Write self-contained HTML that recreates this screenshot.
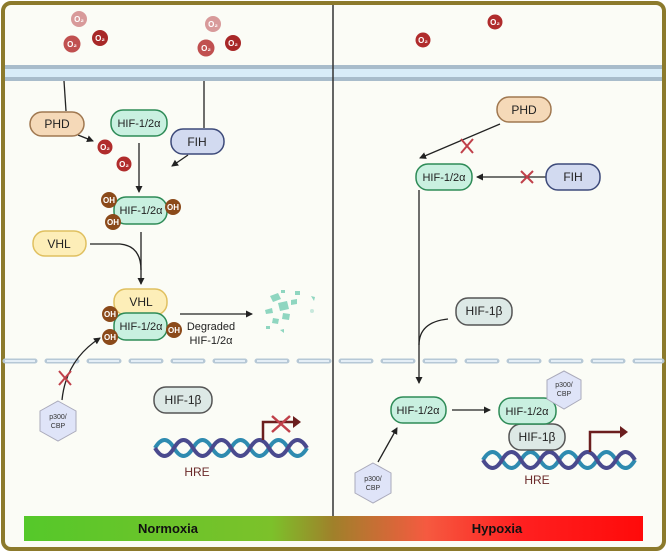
<!DOCTYPE html>
<html><head><meta charset="utf-8"><style>
body{margin:0;width:667px;height:552px;overflow:hidden;background:#fff}
text{font-family:"Liberation Sans",sans-serif}
</style></head><body>
<svg width="667" height="552" viewBox="0 0 667 552" xmlns="http://www.w3.org/2000/svg">
<defs>
<marker id="a" markerWidth="8" markerHeight="8" refX="6" refY="4" orient="auto" markerUnits="userSpaceOnUse"><path d="M0,0.5 L7,4 L0,7.5z" fill="#222"/></marker>
<linearGradient id="g" x1="0" x2="1"><stop offset="0" stop-color="#55c82a"/><stop offset="0.4" stop-color="#7cc12a"/><stop offset="0.5" stop-color="#a0802a"/><stop offset="0.65" stop-color="#f55a40"/><stop offset="0.8" stop-color="#ff2020"/><stop offset="1" stop-color="#ff0a0a"/></linearGradient>
</defs>
<rect x="3" y="3" width="661" height="546" rx="8" fill="#fbfcf6" stroke="#8c7a2c" stroke-width="4"/>
<rect x="5" y="65" width="657" height="16" fill="#d8ecf8"/>
<rect x="5" y="65" width="657" height="4" fill="#a8bccb"/>
<rect x="5" y="77" width="657" height="4" fill="#a8bccb"/>
<line x1="333" y1="5" x2="333" y2="520" stroke="#333" stroke-width="1.5"/>
<line x1="5" y1="361" x2="662" y2="361" stroke="#b6c8d6" stroke-width="5" stroke-dasharray="30,12" stroke-linecap="round"/>
<line x1="5" y1="361" x2="662" y2="361" stroke="#e4eef6" stroke-width="2" stroke-dasharray="30,12"/>
<g font-size="8" fill="#fff" text-anchor="middle" font-weight="bold">
<circle cx="79" cy="19" r="8" fill="#d89a9a"/><text x="79" y="22">O₂</text>
<circle cx="72" cy="44" r="8.5" fill="#c05050"/><text x="72" y="47">O₂</text>
<circle cx="100" cy="38" r="8" fill="#a82828"/><text x="100" y="41">O₂</text>
<circle cx="213" cy="24" r="8" fill="#d89a9a"/><text x="213" y="27">O₂</text>
<circle cx="206" cy="48" r="8.5" fill="#c05050"/><text x="206" y="51">O₂</text>
<circle cx="233" cy="43" r="8" fill="#a82828"/><text x="233" y="46">O₂</text>
<circle cx="105" cy="147" r="7.5" fill="#b02c2c"/><text x="105" y="150">O₂</text>
<circle cx="124" cy="164" r="7.5" fill="#b02c2c"/><text x="124" y="167">O₂</text>
<circle cx="495" cy="22" r="7.5" fill="#b02c2c"/><text x="495" y="25">O₂</text>
<circle cx="423" cy="40" r="7.5" fill="#b02c2c"/><text x="423" y="43">O₂</text>
</g>
<g fill="none" stroke="#222" stroke-width="1.3">
<path d="M64,81 L66,111"/>
<path d="M204,81 L204,128"/>
<path d="M78,135 L93,141" marker-end="url(#a)"/>
<path d="M188,155 L172,166" marker-end="url(#a)"/>
<path d="M139,143 L139,192" marker-end="url(#a)"/>
<path d="M141,232 L141,284" marker-end="url(#a)"/>
<path d="M90,244 L120,244 Q141,246 141,270"/>
<path d="M180,314 L252,314" marker-end="url(#a)"/>
<path d="M62,400 Q66,360 100,338" marker-end="url(#a)"/>
<path d="M500,124 L420,158" marker-end="url(#a)"/>
<path d="M546,177 L477,177" marker-end="url(#a)"/>
<path d="M419,190 L419,383" marker-end="url(#a)"/>
<path d="M448,319 Q419,322 419,345"/>
<path d="M452,410 L490,410" marker-end="url(#a)"/>
<path d="M378,462 L397,428" marker-end="url(#a)"/>
</g>
<g stroke="#c0404a" stroke-width="2">
<path d="M59,371 L71,385 M71,371 L59,385"/>
<path d="M461,139 L473,153 M473,139 L461,153"/>
<path d="M521,171 L533,183 M533,171 L521,183"/>
</g>
<!-- DNA -->
<g fill="none" stroke-width="4">
<path d="M155,448 q9.5,-16 19,0 t19,0 t19,0 t19,0 t19,0 t19,0 t19,0 t19,0" stroke="#2e8bb0"/>
<path d="M155,448 q9.5,16 19,0 t19,0 t19,0 t19,0 t19,0 t19,0 t19,0 t19,0" stroke="#4a4a8e"/>
<path d="M483,460 q9.5,-16 19,0 t19,0 t19,0 t19,0 t19,0 t19,0 t19,0 t19,0" stroke="#2e8bb0"/>
<path d="M483,460 q9.5,16 19,0 t19,0 t19,0 t19,0 t19,0 t19,0 t19,0 t19,0" stroke="#4a4a8e"/>
</g>
<g font-size="12" text-anchor="middle" fill="#222" stroke-width="1.5">
<rect x="30" y="112" width="54" height="24" rx="12" fill="#f5d9b8" stroke="#a07850"/><text x="57" y="128" stroke="none">PHD</text>
<rect x="111" y="110" width="56" height="26" rx="12" fill="#c9f0e0" stroke="#2e8b57"/><text x="139" y="127" stroke="none" font-size="11">HIF-1/2α</text>
<rect x="171" y="129" width="53" height="25" rx="12" fill="#d2daf0" stroke="#3d4a7a"/><text x="197" y="146" stroke="none">FIH</text>
<rect x="114" y="197" width="53" height="27" rx="12" fill="#c9f0e0" stroke="#2e8b57"/><text x="141" y="214" stroke="none" font-size="11">HIF-1/2α</text>
<rect x="33" y="231" width="53" height="25" rx="12" fill="#fdeeb8" stroke="#e0c060"/><text x="59" y="248" stroke="none">VHL</text>
<rect x="114" y="289" width="53" height="26" rx="12" fill="#fdeeb8" stroke="#e0c060"/><text x="141" y="306" stroke="none">VHL</text>
<rect x="114" y="313" width="53" height="27" rx="12" fill="#c9f0e0" stroke="#2e8b57"/><text x="141" y="330" stroke="none" font-size="11">HIF-1/2α</text>
<rect x="154" y="387" width="58" height="26" rx="12" fill="#dde9e6" stroke="#555"/><text x="183" y="404" stroke="none">HIF-1β</text>
<rect x="497" y="97" width="54" height="25" rx="12" fill="#f5d9b8" stroke="#a07850"/><text x="524" y="114" stroke="none">PHD</text>
<rect x="416" y="164" width="56" height="26" rx="12" fill="#c9f0e0" stroke="#2e8b57"/><text x="444" y="181" stroke="none" font-size="11">HIF-1/2α</text>
<rect x="546" y="164" width="54" height="26" rx="12" fill="#d2daf0" stroke="#3d4a7a"/><text x="573" y="181" stroke="none">FIH</text>
<rect x="456" y="298" width="56" height="27" rx="12" fill="#dde9e6" stroke="#555"/><text x="484" y="315" stroke="none">HIF-1β</text>
<rect x="391" y="397" width="55" height="26" rx="12" fill="#c9f0e0" stroke="#2e8b57"/><text x="418" y="414" stroke="none" font-size="11">HIF-1/2α</text>
<rect x="509" y="424" width="56" height="26" rx="12" fill="#dde9e6" stroke="#555"/><text x="537" y="441" stroke="none">HIF-1β</text>
<rect x="499" y="398" width="57" height="26" rx="12" fill="#c9f0e0" stroke="#2e8b57"/><text x="527" y="415" stroke="none" font-size="11">HIF-1/2α</text>
</g>
<g font-size="8" font-weight="bold" fill="#fff" text-anchor="middle">
<circle cx="109" cy="200" r="8" fill="#8b4a1a"/><text x="109" y="203">OH</text>
<circle cx="113" cy="222" r="8" fill="#8b4a1a"/><text x="113" y="225">OH</text>
<circle cx="173" cy="207" r="8" fill="#8b4a1a"/><text x="173" y="210">OH</text>
<circle cx="110" cy="314" r="8" fill="#8b4a1a"/><text x="110" y="317">OH</text>
<circle cx="110" cy="337" r="8" fill="#8b4a1a"/><text x="110" y="340">OH</text>
<circle cx="174" cy="330" r="8" fill="#8b4a1a"/><text x="174" y="333">OH</text>
</g>
<text x="211" y="330" font-size="11" text-anchor="middle" fill="#222">Degraded</text>
<text x="211" y="344" font-size="11" text-anchor="middle" fill="#222">HIF-1/2α</text>
<g fill="#8fd6c0">
<path d="M270,296 l8,-3 l3,6 l-8,3z"/><path d="M278,303 l9,-2 l2,8 l-9,2z"/><path d="M265,310 l7,-2 l1,5 l-7,1z"/>
<path d="M283,313 l7,1 l-1,6 l-7,-1z"/><path d="M291,300 l6,-1 l0,5 l-6,1z"/><path d="M273,318 l6,1 l-1,5 l-6,-1z"/>
<path d="M295,291 l5,0 l0,4 l-5,0z"/><path d="M281,290 l4,0 l0,3 l-4,0z"/><path d="M311,296 l4,1 l-1,4z"/>
<path d="M266,326 l4,0 l0,3 l-4,0z"/><path d="M280,330 l4,-1 l0,4z"/><circle cx="312" cy="311" r="2" fill="#c8e8dc"/>
</g>
<g fill="#dfe4f8" stroke="#aab" stroke-width="1" font-size="7" text-anchor="middle">
<polygon points="58,401 76,411 76,431 58,441 40,431 40,411"/><text x="58" y="419" fill="#333" stroke="none">p300/</text><text x="58" y="428" fill="#333" stroke="none">CBP</text>
<polygon points="373,463 391,473 391,493 373,503 355,493 355,473"/><text x="373" y="481" fill="#333" stroke="none">p300/</text><text x="373" y="490" fill="#333" stroke="none">CBP</text>
<polygon points="564,371 581,380 581,399 564,409 547,399 547,380"/><text x="564" y="387" fill="#333" stroke="none">p300/</text><text x="564" y="396" fill="#333" stroke="none">CBP</text>
</g>
<path d="M263,440 L263,422 L294,422" fill="none" stroke="#6b1e1e" stroke-width="2.5"/><path d="M293,416 L301,422 L293,428z" fill="#6b1e1e"/>
<path d="M590,452 L590,432 L621,432" fill="none" stroke="#6b1e1e" stroke-width="2.5"/><path d="M620,426 L628,432 L620,438z" fill="#6b1e1e"/>
<path d="M272,416 L290,432 M290,416 L272,432" stroke="#c0404a" stroke-width="2.5"/>
<text x="197" y="476" font-size="12" text-anchor="middle" fill="#6b2a2a">HRE</text>
<text x="537" y="484" font-size="12" text-anchor="middle" fill="#6b2a2a">HRE</text>
<rect x="24" y="516" width="619" height="25" fill="url(#g)"/>
<text x="168" y="533" font-size="13" font-weight="bold" text-anchor="middle" fill="#111">Normoxia</text>
<text x="497" y="533" font-size="13" font-weight="bold" text-anchor="middle" fill="#111">Hypoxia</text>
</svg>
</body></html>
